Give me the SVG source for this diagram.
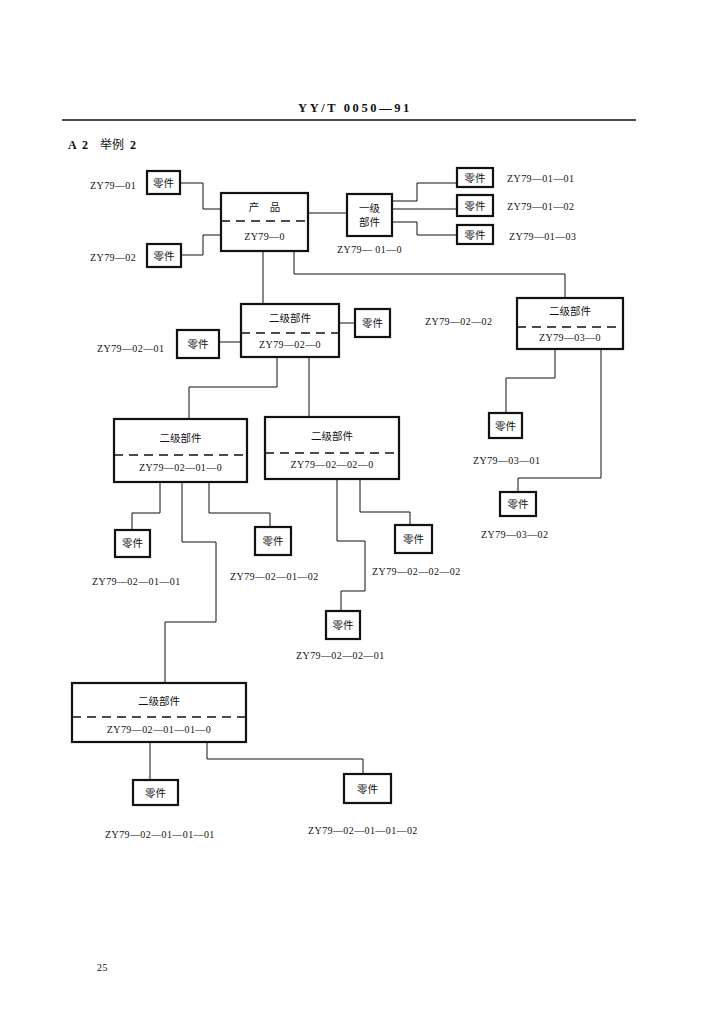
<svg xmlns="http://www.w3.org/2000/svg" width="711" height="1024" viewBox="0 0 711 1024">
<style>
.bx{fill:#fff;stroke:#111;stroke-width:2.2}
.dash{stroke:#111;stroke-width:1.3;stroke-dasharray:9,6;fill:none}
.cn{fill:none;stroke:#111;stroke-width:1}
.cj{font-family:"Noto Sans CJK SC",sans-serif;font-size:10.5px;fill:#111}
.lb{font-family:"Liberation Serif","Noto Sans CJK SC",serif;font-size:10px;fill:#111;letter-spacing:0.4px}
.hd{font-family:"Liberation Serif",serif;font-weight:bold;font-size:12.5px;fill:#111;letter-spacing:2.6px}
.ah{font-family:"Liberation Serif","Noto Sans CJK SC",serif;font-weight:bold;font-size:12px;fill:#111}
</style>
<rect width="711" height="1024" fill="#fff"/>
<text class="hd" x="298" y="112">YY/T 0050—91</text>
<line x1="62" y1="120" x2="636" y2="120" stroke="#111" stroke-width="1.3"/>
<text class="ah" x="68" y="149">A</text>
<text class="ah" x="82" y="149">2</text>
<text x="100" y="149" style="font-family:'Noto Sans CJK SC',sans-serif;font-size:12px;fill:#111">举例</text>
<text class="ah" x="130" y="149">2</text>

<g id="connectors">
<polyline class="cn" points="180,183 203,183 203,209 221,209"/>
<polyline class="cn" points="181,255 203,255 203,235 221,235"/>
<line class="cn" x1="308" y1="213" x2="347" y2="213"/>
<polyline class="cn" points="392,201 417,201 417,183 457,183"/>
<line class="cn" x1="392" y1="209" x2="457" y2="209"/>
<polyline class="cn" points="392,222 417,222 417,235 457,235"/>
<line class="cn" x1="263" y1="251" x2="263" y2="304"/>
<polyline class="cn" points="294,251 294,274 565,274 565,298"/>
<line class="cn" x1="219" y1="342" x2="241" y2="342"/>
<line class="cn" x1="339" y1="323" x2="355" y2="323"/>
<polyline class="cn" points="277,357 277,387 189,387 189,419"/>
<line class="cn" x1="309" y1="357" x2="309" y2="417"/>
<polyline class="cn" points="555,349 555,378 506,378 506,413"/>
<polyline class="cn" points="601,349 601,478 518,478 518,492"/>
<polyline class="cn" points="160,482 160,513 132,513 132,530"/>
<polyline class="cn" points="182,482 182,542 216,542 216,622 165,622 165,683"/>
<polyline class="cn" points="209,482 209,513 270,513 270,527"/>
<polyline class="cn" points="337,479 337,541 365,541 365,591 341,591 341,611"/>
<polyline class="cn" points="360,479 360,512 410,512 410,525"/>
<line class="cn" x1="150" y1="742" x2="150" y2="780"/>
<polyline class="cn" points="207,742 207,759 363,759 363,774"/>
</g>

<g id="part-01">
<rect class="bx" x="147" y="171" width="33" height="23"/>
<text class="cj" x="163.5" y="186.5" text-anchor="middle">零件</text>
<text class="lb" x="90" y="189">ZY79—01</text>
</g>
<g id="part-02">
<rect class="bx" x="147" y="244" width="34" height="23"/>
<text class="cj" x="164" y="259.5" text-anchor="middle">零件</text>
<text class="lb" x="90" y="261">ZY79—02</text>
</g>
<g id="product">
<rect class="bx" x="221" y="193" width="87" height="58"/>
<line class="dash" x1="221" y1="221" x2="308" y2="221"/>
<text class="cj" x="264.5" y="211" text-anchor="middle">产　品</text>
<text class="lb" x="264.5" y="240" text-anchor="middle">ZY79—0</text>
</g>
<g id="asm-01">
<rect class="bx" x="347" y="194" width="45" height="42"/>
<text class="cj" x="369.5" y="212" text-anchor="middle">一级</text>
<text class="cj" x="369.5" y="226" text-anchor="middle">部件</text>
<text class="lb" x="337" y="253">ZY79— 01—0</text>
</g>
<g id="part-01-01">
<rect class="bx" x="457" y="168" width="36" height="19"/>
<text class="cj" x="475" y="181.5" text-anchor="middle">零件</text>
<text class="lb" x="507" y="182">ZY79—01—01</text>
</g>
<g id="part-01-02">
<rect class="bx" x="457" y="195" width="36" height="21"/>
<text class="cj" x="475" y="209.5" text-anchor="middle">零件</text>
<text class="lb" x="507" y="210">ZY79—01—02</text>
</g>
<g id="part-01-03">
<rect class="bx" x="457" y="225" width="36" height="19"/>
<text class="cj" x="475" y="238.5" text-anchor="middle">零件</text>
<text class="lb" x="509" y="240">ZY79—01—03</text>
</g>
<g id="asm-02">
<rect class="bx" x="241" y="304" width="98" height="53"/>
<line class="dash" x1="241" y1="333" x2="339" y2="333"/>
<text class="cj" x="290" y="322" text-anchor="middle">二级部件</text>
<text class="lb" x="290" y="348" text-anchor="middle">ZY79—02—0</text>
</g>
<g id="part-02-01">
<rect class="bx" x="177" y="330" width="42" height="28"/>
<text class="cj" x="198" y="347.5" text-anchor="middle">零件</text>
<text class="lb" x="97" y="352">ZY79—02—01</text>
</g>
<g id="part-02-02">
<rect class="bx" x="355" y="309" width="35" height="28"/>
<text class="cj" x="372.5" y="326.5" text-anchor="middle">零件</text>
<text class="lb" x="425" y="325">ZY79—02—02</text>
</g>
<g id="asm-03">
<rect class="bx" x="517" y="298" width="106" height="51"/>
<line class="dash" x1="517" y1="327" x2="623" y2="327"/>
<text class="cj" x="570" y="315" text-anchor="middle">二级部件</text>
<text class="lb" x="570" y="341" text-anchor="middle">ZY79—03—0</text>
</g>
<g id="part-03-01">
<rect class="bx" x="489" y="413" width="33" height="25"/>
<text class="cj" x="505.5" y="429.5" text-anchor="middle">零件</text>
<text class="lb" x="473" y="464">ZY79—03—01</text>
</g>
<g id="part-03-02">
<rect class="bx" x="500" y="492" width="36" height="24"/>
<text class="cj" x="518" y="508" text-anchor="middle">零件</text>
<text class="lb" x="481" y="538">ZY79—03—02</text>
</g>
<g id="asm-02-01">
<rect class="bx" x="114" y="419" width="133" height="63"/>
<line class="dash" x1="114" y1="455" x2="247" y2="455"/>
<text class="cj" x="180.5" y="442" text-anchor="middle">二级部件</text>
<text class="lb" x="180.5" y="471" text-anchor="middle">ZY79—02—01—0</text>
</g>
<g id="asm-02-02">
<rect class="bx" x="265" y="417" width="134" height="62"/>
<line class="dash" x1="265" y1="453" x2="399" y2="453"/>
<text class="cj" x="332" y="440" text-anchor="middle">二级部件</text>
<text class="lb" x="332" y="468" text-anchor="middle">ZY79—02—02—0</text>
</g>
<g id="part-02-01-01">
<rect class="bx" x="115" y="530" width="35" height="27"/>
<text class="cj" x="132.5" y="547" text-anchor="middle">零件</text>
<text class="lb" x="92" y="585">ZY79—02—01—01</text>
</g>
<g id="part-02-01-02">
<rect class="bx" x="255" y="527" width="36" height="28"/>
<text class="cj" x="273" y="544.5" text-anchor="middle">零件</text>
<text class="lb" x="230" y="580">ZY79—02—01—02</text>
</g>
<g id="part-02-02-01">
<rect class="bx" x="326" y="611" width="34" height="28"/>
<text class="cj" x="343" y="628.5" text-anchor="middle">零件</text>
<text class="lb" x="296" y="659">ZY79—02—02—01</text>
</g>
<g id="part-02-02-02">
<rect class="bx" x="395" y="525" width="37" height="28"/>
<text class="cj" x="413.5" y="542.5" text-anchor="middle">零件</text>
<text class="lb" x="372" y="575">ZY79—02—02—02</text>
</g>
<g id="asm-02-01-01">
<rect class="bx" x="72" y="683" width="174" height="59"/>
<line class="dash" x1="72" y1="717" x2="246" y2="717"/>
<text class="cj" x="159" y="705" text-anchor="middle">二级部件</text>
<text class="lb" x="159" y="733" text-anchor="middle">ZY79—02—01—01—0</text>
</g>
<g id="part-02-01-01-01">
<rect class="bx" x="133" y="780" width="45" height="25"/>
<text class="cj" x="155.5" y="796.5" text-anchor="middle">零件</text>
<text class="lb" x="105" y="838">ZY79—02—01—01—01</text>
</g>
<g id="part-02-01-01-02">
<rect class="bx" x="344" y="774" width="47" height="29"/>
<text class="cj" x="367.5" y="792.5" text-anchor="middle">零件</text>
<text class="lb" x="308" y="834">ZY79—02—01—01—02</text>
</g>
<text class="lb" x="97" y="971">25</text>
</svg>
